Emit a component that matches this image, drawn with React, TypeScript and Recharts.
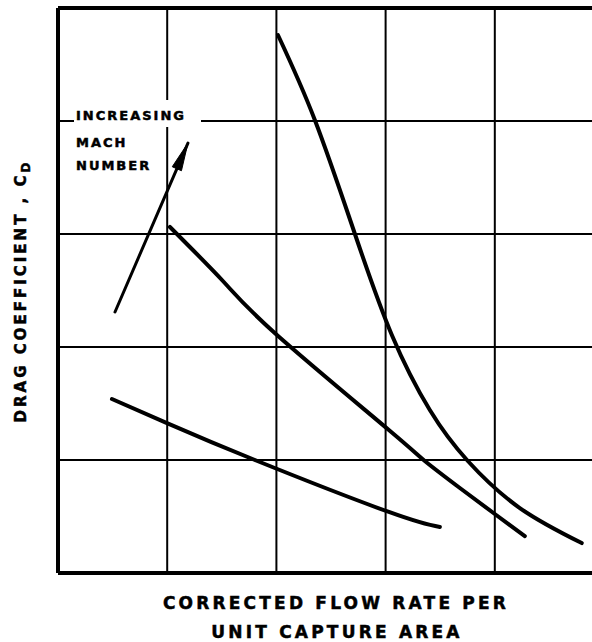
import { ComposedChart, Line, XAxis, YAxis, ReferenceLine } from 'recharts'

// axis extents, in grid units (one unit = one grid cell)
const X_MAX = 4.89
const Y_MAX = 5
const GRID_X = [1, 2, 3, 4]
const GRID_Y = [1, 2, 3, 4]

// curves, highest Mach number first
const curveHigh = [
  { x: 2.014, y: 4.761 },
  { x: 2.352, y: 4.009 },
  { x: 2.719, y: 3.0 },
  { x: 3.057, y: 2.106 },
  { x: 3.405, y: 1.442 },
  { x: 3.753, y: 0.991 },
  { x: 4.229, y: 0.575 },
  { x: 4.796, y: 0.265 },
]
const curveMid = [
  { x: 1.025, y: 3.062 },
  { x: 1.51, y: 2.584 },
  { x: 2.005, y: 2.106 },
  { x: 3.03, y: 1.265 },
  { x: 3.359, y: 0.991 },
  { x: 3.68, y: 0.752 },
  { x: 4.0, y: 0.522 },
  { x: 4.275, y: 0.327 },
]
const curveLow = [
  { x: 0.494, y: 1.54 },
  { x: 0.998, y: 1.327 },
  { x: 1.803, y: 1.0 },
  { x: 3.03, y: 0.54 },
  { x: 3.497, y: 0.407 },
]
const arrow = [
  { x: 0.522, y: 2.31 },
  { x: 1.19, y: 3.805 },
]

const FONT = '"DejaVu Sans", sans-serif'

function ArrowHead(props: any) {
  const { cx, cy, index, points } = props
  if (index !== arrow.length - 1 || !points || points.length < 2) return <g key={`a${index}`} />
  const prev = points[index - 1]
  const ang = Math.atan2(cy - prev.y, cx - prev.x)
  const len = 28
  const half = 5
  const bx = cx - len * Math.cos(ang)
  const by = cy - len * Math.sin(ang)
  const nx = -Math.sin(ang)
  const ny = Math.cos(ang)
  const pts = `${cx},${cy} ${bx + nx * half},${by + ny * half} ${bx - nx * half},${by - ny * half}`
  return <polygon key={`a${index}`} points={pts} fill="#000" stroke="#000" strokeWidth={1} strokeLinejoin="round" />
}

export default function App() {
  const lineProps = {
    dataKey: 'y',
    type: 'natural' as const,
    stroke: '#000',
    strokeWidth: 4,
    strokeLinecap: 'round' as const,
    dot: false,
    activeDot: false,
    isAnimationActive: false,
  }
  return (
    <div style={{ position: 'absolute', left: 0, top: 0, width: 592, height: 642, background: '#fff' }}>
      <ComposedChart width={592} height={642} margin={{ top: 8, right: 0, left: 58, bottom: 69 }}>
        <XAxis type="number" dataKey="x" domain={[0, X_MAX]} allowDataOverflow hide />
        <YAxis type="number" dataKey="y" domain={[0, Y_MAX]} allowDataOverflow hide />
        {GRID_X.map((v) => (
          <ReferenceLine key={`gx${v}`} x={v} stroke="#000" strokeWidth={2} />
        ))}
        {GRID_Y.map((v) => (
          <ReferenceLine key={`gy${v}`} y={v} stroke="#000" strokeWidth={2} />
        ))}
        <ReferenceLine x={0} stroke="#000" strokeWidth={4} />
        <ReferenceLine y={0} stroke="#000" strokeWidth={4} />
        <ReferenceLine y={Y_MAX} stroke="#000" strokeWidth={4} />
        <Line {...lineProps} data={curveHigh} />
        <Line {...lineProps} data={curveMid} />
        <Line {...lineProps} data={curveLow} />
        <Line {...lineProps} data={arrow} type="linear" strokeWidth={3} dot={ArrowHead} />
      </ComposedChart>
      <svg width={592} height={642} style={{ position: 'absolute', left: 0, top: 0, pointerEvents: 'none' }}>
        <rect x={74} y={100} width={127} height={27} fill="#fff" />
        <g fontFamily={FONT} fontWeight="bold" fontSize={13} letterSpacing={2} fill="#000" stroke="#000" strokeWidth={0.5}>
          <text x={76} y={120}>INCREASING</text>
          <text x={76} y={147}>MACH</text>
          <text x={76} y={170}>NUMBER</text>
        </g>
        <g fontFamily={FONT} fontWeight="bold" fontSize={17} letterSpacing={3.2} fill="#000" stroke="#000" strokeWidth={0.5} textAnchor="middle">
          <text x={336} y={609}>CORRECTED FLOW RATE PER</text>
          <text x={337} y={638}>UNIT CAPTURE AREA</text>
        </g>
        <text
          transform="translate(26,291) rotate(-90)"
          fontFamily={FONT}
          fontWeight="bold"
          fontSize={15}
          letterSpacing={3}
          textAnchor="middle"
          fill="#000"
          stroke="#000"
          strokeWidth={0.5}
        >
          DRAG COEFFICIENT , C<tspan fontSize={12} dy={4}>D</tspan>
        </text>
      </svg>
    </div>
  )
}
